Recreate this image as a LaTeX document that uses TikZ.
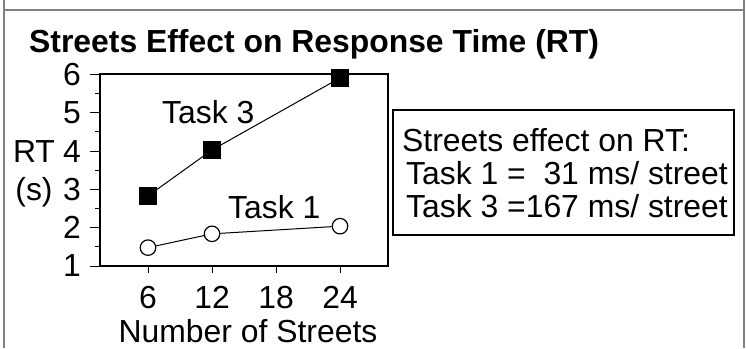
\documentclass[tikz,border=0pt]{standalone}
\usepackage{fontspec}
\setmainfont{Liberation Sans}
\tikzset{
	txt/.style={inner sep=0pt,font=\fontsize{32}{34}\selectfont},
	rim/.style={draw=gray,line width=2.5bp},
	sq/.style={fill=black,minimum size=17.5bp,inner sep=0pt},
	ring/.style={circle,draw=black,fill=white,line width=1.2bp,minimum size=15.5bp,inner sep=0pt},
}
\begin{document}
\begin{tikzpicture}[x=1bp,y=-1bp]
		\useasboundingbox (0,0) rectangle (746,348);
		\draw[rim] (3.8,0) -- (3.8,348);
		\draw[rim] (744.2,0) -- (744.2,348);
		\draw[rim] (3.8,10) -- (744.2,10);

		\node[txt,anchor=base west,font=\fontsize{32}{34}\selectfont\bfseries] (title) at (29,52) {Streets Effect on Response Time (RT)};

		\draw[line width=1.4bp] (100,74) rectangle (388,266);
		\foreach \v in {1,...,6} {
			\draw[line width=1bp] (90,{266-(\v-1)*38.3}) -- (100,{266-(\v-1)*38.3});
			\node[txt,anchor=east] (y\v) at (81,{266-(\v-1)*38.3}) {\v};
		}
		\foreach \v in {1.5,2.5,3.5,4.5,5.5}
			\draw[line width=1bp] (95,{266-(\v-1)*38.3}) -- (100,{266-(\v-1)*38.3});
		\foreach \s in {6,12,18,24} {
			\draw[line width=1bp] ({84+10.667*\s},266) -- ({84+10.667*\s},273);
			\node[txt,anchor=base] (x\s) at ({84+10.667*\s},308) {\s};
		}
		\node[txt,anchor=base] (xlab) at (248,342.5) {Number of Streets};
		\node[txt,anchor=base] (ylab) at (34,162) {RT};
		\node[txt,anchor=base] (yunit) at (34,200.5) {(s)};

		\begin{scope}[shift={(84,304.3)},x=10.667bp,y=38.3bp]
			\node[sq] (c3a) at (6,2.83) {};
			\node[sq] (c3b) at (12,4.03) {};
			\node[sq] (c3c) at (24,5.91) {};
			\node[ring] (c1a) at (6,1.48) {};
			\node[ring] (c1b) at (12,1.84) {};
			\node[ring] (c1c) at (24,2.04) {};
			\draw[line width=1bp] (c3a) -- (c3b) -- (c3c);
			\draw[line width=1bp] (c1a) -- (c1b) -- (c1c);
		\end{scope}
		\node[txt,anchor=base west] (t3) at (162,123) {Task 3};
		\node[txt,anchor=base west] (t1) at (228,218) {Task 1};

		\draw[line width=1.3bp] (393,110) rectangle (734,235);
		\node[txt,anchor=base west] (note) at (402,151.5) {Streets effect on RT:};
		\node[txt,anchor=base west] (note1) at (406,184) {Task 1 =\ \ 31 ms/ street};
		\node[txt,anchor=base west] (note3) at (406,217) {Task 3 =167 ms/ street};
\end{tikzpicture}
\end{document}
